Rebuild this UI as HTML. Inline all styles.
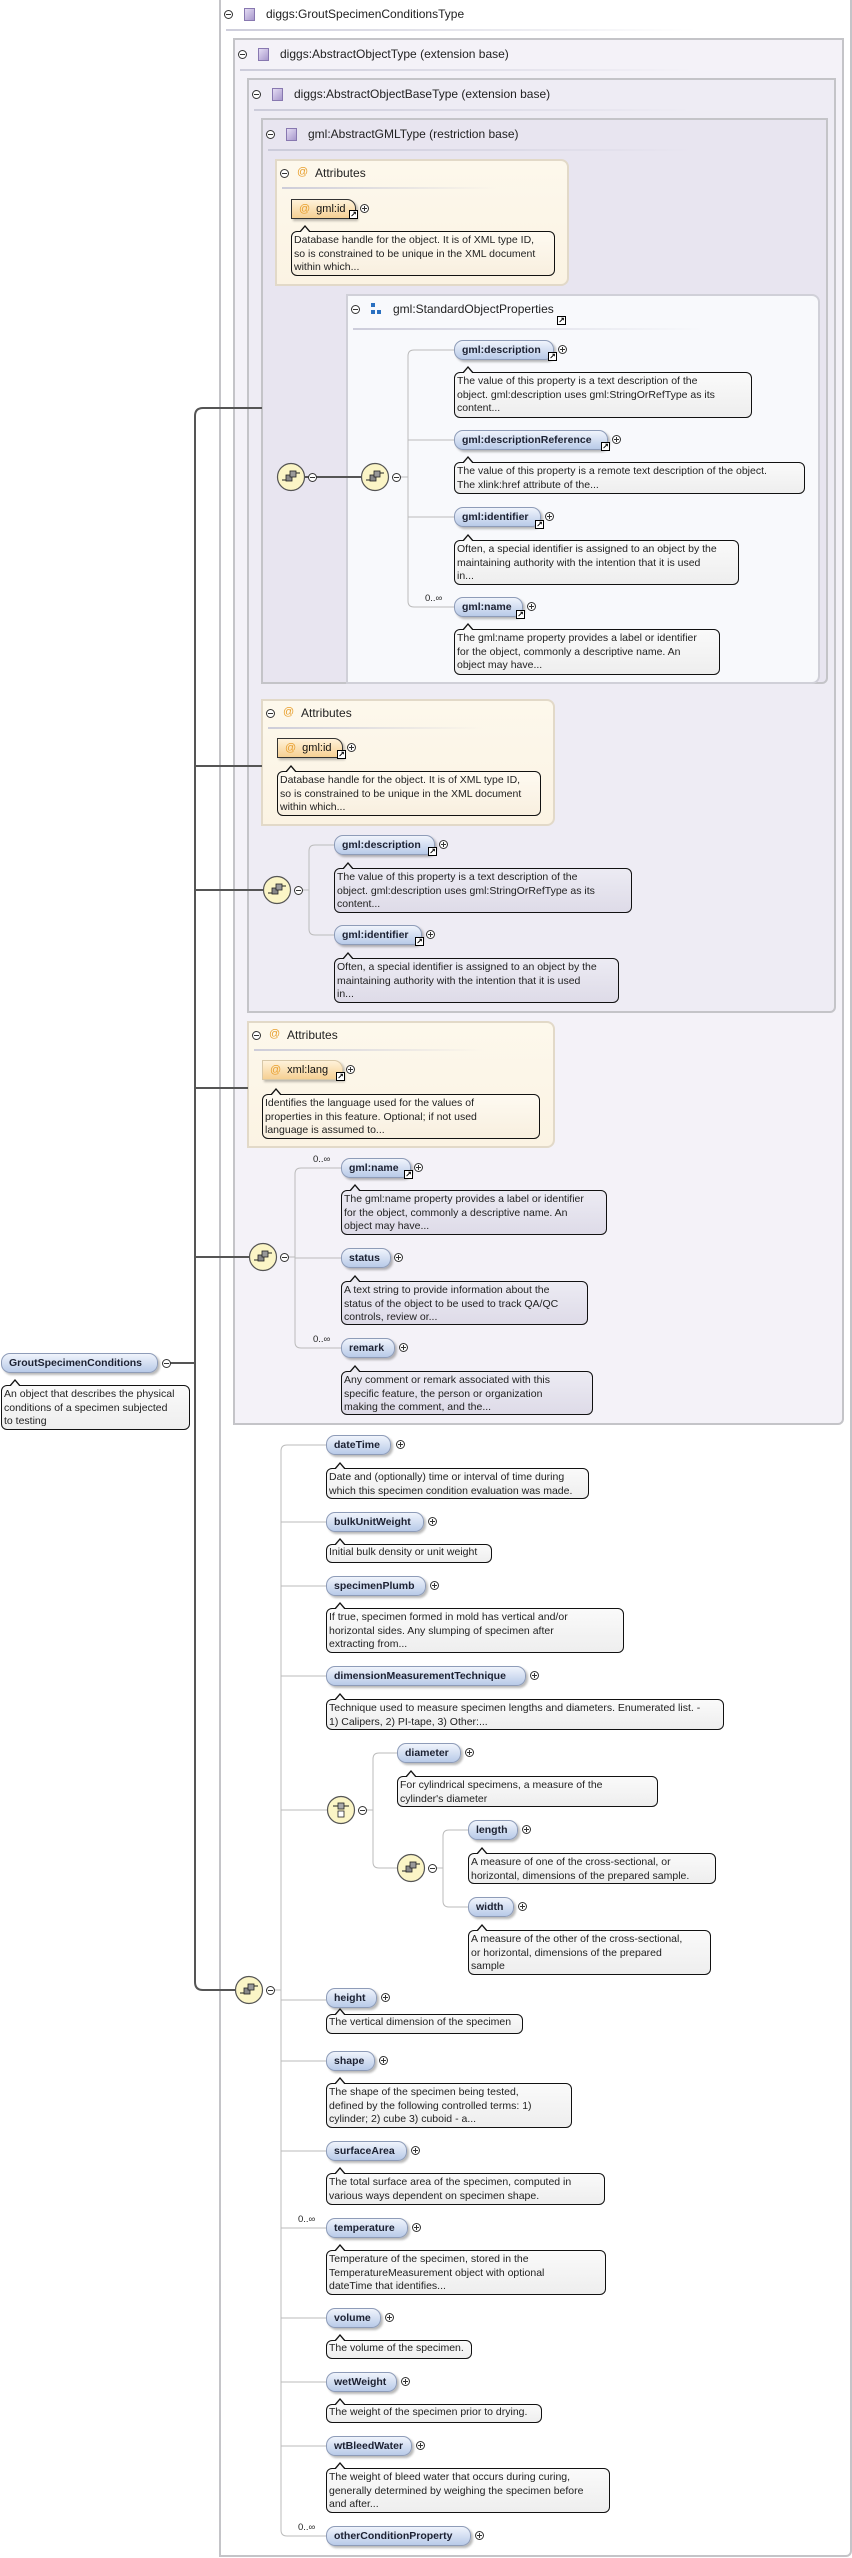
<!DOCTYPE html>
<html><head><meta charset="utf-8">
<style>
*{margin:0;padding:0}
body{width:852px;height:2558px;position:relative;background:#fff;overflow:hidden;font-family:"Liberation Sans",sans-serif}
.box{position:absolute;border:2px solid #c4c4c8;box-sizing:border-box;border-radius:0 0 6px 0}
.hd{position:absolute;font:12px "Liberation Sans",sans-serif;color:#222;white-space:nowrap}
.ul{position:absolute;height:2px;background:linear-gradient(90deg,rgba(200,200,215,.9),rgba(220,220,230,0))}
.mi{position:absolute;width:9px;height:9px;border:1px solid #333;border-radius:50%;box-sizing:border-box;background:#fff}
.mi::after{content:"";position:absolute;left:1px;top:3px;width:5px;height:1px;background:#333}
.pl{position:absolute;width:9px;height:9px;border:1px solid #333;border-radius:50%;box-sizing:border-box;background:#fff}
.pl::after{content:"";position:absolute;left:1px;top:3px;width:5px;height:1px;background:#333}
.pl::before{content:"";position:absolute;left:3px;top:1px;width:1px;height:5px;background:#333}
.ti{position:absolute;width:11px;height:13px;background:linear-gradient(135deg,#e4dcf4,#a898cc);border:1px solid #8878b0;box-sizing:border-box}
.at{position:absolute;color:#e8a030;font:11px "Liberation Sans",sans-serif}
.n{position:absolute;height:20px;box-sizing:border-box;border:1px solid #8e9cb8;border-radius:9px;background:linear-gradient(#f0f4fc,#b8cae8);font:bold 10.5px/18px "Liberation Sans",sans-serif;color:#1c2132;padding-left:7px;white-space:nowrap;box-shadow:2px 2px 2px rgba(0,0,0,.28)}
.a{position:absolute;height:20px;box-sizing:border-box;border:1px solid #333;border-radius:0 9px 0 0;background:linear-gradient(#fff2da,#f6d093);font:11px/18px "Liberation Sans",sans-serif;color:#111;padding-left:7px;white-space:nowrap;box-shadow:2px 2px 2px rgba(0,0,0,.25)}
.a i{font-style:normal;color:#e8a030;margin-right:6px}
.lk{position:absolute;width:9px;height:9px;border:1px solid #000;background:#fff;box-sizing:border-box;font:bold 8px/7px "DejaVu Sans",sans-serif;text-align:center;color:#000;overflow:hidden}
.b{position:absolute;border:1px solid #111;border-radius:6px;background:linear-gradient(#fafafa,#eeeeee);font:10.5px/13.5px "Liberation Sans",sans-serif;color:#222;padding:2px 2px;box-sizing:border-box;white-space:nowrap}
.b::before{content:"";position:absolute;left:7px;top:-7px;border-left:6px solid transparent;border-right:6px solid transparent;border-bottom:7px solid #111}
.b::after{content:"";position:absolute;left:8px;top:-5px;border-left:5px solid transparent;border-right:5px solid transparent;border-bottom:6px solid #f9f9f9}
.bp{background:linear-gradient(#ecebf3,#dedbe8)}
.bp::after{border-bottom-color:#ecebf3}
.ba{background:linear-gradient(#fefaf1,#f8efdf)}
.ba::after{border-bottom-color:#fefaf1}
.oc{position:absolute;font:9.5px "Liberation Sans",sans-serif;color:#222}
</style></head><body>

<div class="box" style="left:219px;top:0;width:633px;height:2557px;background:#fff;border-top:none"></div>
<div class="box" style="left:233px;top:38px;width:611px;height:1387px;background:#f4f2f8"></div>
<div class="box" style="left:247px;top:78px;width:589px;height:935px;background:#eeecf4"></div>
<div class="box" style="left:261px;top:118px;width:567px;height:566px;background:#e8e5f0"></div>
<div class="box" style="left:275px;top:159px;width:294px;height:127px;background:linear-gradient(#fdf8ec,#fbf3e3);border-color:#e2d9c8;border-radius:0 8px 8px 0"></div>
<div class="box" style="left:346px;top:294px;width:474px;height:390px;background:#f8f9fc;border-color:#d0d0d8;border-radius:0 8px 8px 0"></div>
<div class="box" style="left:261px;top:699px;width:294px;height:127px;background:linear-gradient(#fdf8ec,#fbf3e3);border-color:#e2d9c8;border-radius:0 8px 8px 0"></div>
<div class="box" style="left:247px;top:1021px;width:308px;height:127px;background:linear-gradient(#fdf8ec,#fbf3e3);border-color:#e2d9c8;border-radius:0 8px 8px 0"></div>

<div class="mi" style="left:224px;top:10px"></div><div class="ti" style="left:244px;top:8px"></div><div class="hd" style="left:266px;top:7px">diggs:GroutSpecimenConditionsType</div><div class="ul" style="left:226px;top:29px;width:470px"></div>
<div class="mi" style="left:238px;top:50px"></div><div class="ti" style="left:258px;top:48px"></div><div class="hd" style="left:280px;top:47px">diggs:AbstractObjectType (extension base)</div><div class="ul" style="left:240px;top:69px;width:455px"></div>
<div class="mi" style="left:252px;top:90px"></div><div class="ti" style="left:272px;top:88px"></div><div class="hd" style="left:294px;top:87px">diggs:AbstractObjectBaseType (extension base)</div><div class="ul" style="left:254px;top:109px;width:440px"></div>
<div class="mi" style="left:266px;top:130px"></div><div class="ti" style="left:286px;top:128px"></div><div class="hd" style="left:308px;top:127px">gml:AbstractGMLType (restriction base)</div><div class="ul" style="left:268px;top:149px;width:425px"></div>
<div class="mi" style="left:280px;top:169px"></div><div class="at" style="left:297px;top:166px">@</div><div class="hd" style="left:315px;top:166px">Attributes</div><div class="ul" style="left:282px;top:187px;width:215px"></div>
<div class="mi" style="left:351px;top:305px"></div>
<div style="position:absolute;left:371px;top:303px;width:4px;height:4px;background:#2a70c0"></div><div style="position:absolute;left:371px;top:310px;width:4px;height:4px;background:#2a70c0"></div><div style="position:absolute;left:377px;top:310px;width:4px;height:4px;background:#2a70c0"></div>
<div class="hd" style="left:393px;top:302px">gml:StandardObjectProperties</div><div class="lk" style="left:557px;top:316px">&#8599;</div><div class="ul" style="left:353px;top:328px;width:350px"></div>
<div class="mi" style="left:266px;top:709px"></div><div class="at" style="left:283px;top:706px">@</div><div class="hd" style="left:301px;top:706px">Attributes</div><div class="ul" style="left:268px;top:727px;width:215px"></div>
<div class="mi" style="left:252px;top:1031px"></div><div class="at" style="left:269px;top:1028px">@</div><div class="hd" style="left:287px;top:1028px">Attributes</div><div class="ul" style="left:254px;top:1049px;width:230px"></div>

<svg style="position:absolute;left:0;top:0" width="852" height="2558">
<g fill="none" stroke="#555" stroke-width="2">
<path d="M262 408 H203 Q195 408 195 416 V1982 Q195 1990 203 1990 H235"/>
<path d="M195 766 H262 M195 890 H263 M195 1088 H248 M195 1257 H249 M167 1363 H195"/>
<path d="M305 477 H361"/>
</g>
<g fill="none" stroke="#bbb" stroke-width="1">
<path d="M454 350 H414 Q408 350 408 356 V601 Q408 607 414 607 H454 M408 440 H454 M408 517 H454 M398 477 H408"/>
<path d="M334 845 H315 Q309 845 309 851 V929 Q309 935 315 935 H334 M300 890 H309"/>
<path d="M341 1168 H301 Q295 1168 295 1174 V1342 Q295 1348 301 1348 H341 M341 1258 H295 M286 1257 H295"/>
<path d="M326 1445 H287 Q281 1445 281 1451 V2530 Q281 2536 287 2536 H326 M272 1990 H281"/>
<path d="M281 1522 H326 M281 1586 H326 M281 1676 H326 M281 1810 H327 M281 2000 H326 M281 2061 H326 M281 2151 H326 M281 2228 H326 M281 2318 H326 M281 2382 H326 M281 2446 H326"/>
<path d="M397 1753 H379 Q373 1753 373 1759 V1862 Q373 1868 379 1868 H397 M364 1810 H373"/>
<path d="M468 1830 H449 Q443 1830 443 1836 V1901 Q443 1907 449 1907 H468 M434 1868 H443"/>
</g>
<defs>
<g id="seq"><circle r="13.5" fill="#fbf5c6" stroke="#555" stroke-width="1.2"/><path d="M-9 3 H-5 M5 -4 H9" stroke="#222" stroke-width="1"/><rect x="-5" y="-2" width="6" height="6" fill="#888" stroke="#222" stroke-width=".8"/><rect x="-1" y="-6" width="6" height="6" fill="#999" stroke="#222" stroke-width=".8"/></g>
<g id="cho"><circle r="13.5" fill="#fbf5c6" stroke="#555" stroke-width="1.2"/><path d="M-8 -4 H8" stroke="#222"/><rect x="-3" y="-7" width="6" height="6" fill="#aaa" stroke="#222" stroke-width=".8"/><rect x="-3" y="1" width="6" height="6" fill="#fff" stroke="#222" stroke-width=".8"/></g>
</defs>
<use href="#seq" x="291" y="477"/><use href="#seq" x="375" y="477"/>
<use href="#seq" x="277" y="890"/><use href="#seq" x="263" y="1257"/>
<use href="#seq" x="249" y="1990"/><use href="#cho" x="341" y="1810"/><use href="#seq" x="411" y="1868"/>
</svg>
<div class="mi" style="left:308px;top:473px"></div><div class="mi" style="left:392px;top:473px"></div>
<div class="mi" style="left:294px;top:886px"></div><div class="mi" style="left:280px;top:1253px"></div>
<div class="mi" style="left:266px;top:1986px"></div><div class="mi" style="left:358px;top:1806px"></div><div class="mi" style="left:428px;top:1864px"></div>
<div class="mi" style="left:162px;top:1359px"></div>

<div class="a" style="left:291px;top:199px;width:65px"><i>@</i>gml:id</div><div class="lk" style="left:349px;top:210px">&#8599;</div><div class="pl" style="left:360px;top:204px"></div>
<div class="b ba" style="left:291px;top:231px;width:264px;height:45px">Database handle for the object. It is of XML type ID,<br>so is constrained to be unique in the XML document<br>within which...</div>

<div class="n" style="left:454px;top:340px;width:100px">gml:description</div><div class="lk" style="left:548px;top:352px">&#8599;</div><div class="pl" style="left:558px;top:345px"></div>
<div class="b" style="left:454px;top:372px;width:298px;height:46px">The value of this property is a text description of the<br>object. gml:description uses gml:StringOrRefType as its<br>content...</div>
<div class="n" style="left:454px;top:430px;width:154px">gml:descriptionReference</div><div class="lk" style="left:601px;top:442px">&#8599;</div><div class="pl" style="left:612px;top:435px"></div>
<div class="b" style="left:454px;top:462px;width:351px;height:32px">The value of this property is a remote text description of the object.<br>The xlink:href attribute of the...</div>
<div class="n" style="left:454px;top:507px;width:87px">gml:identifier</div><div class="lk" style="left:535px;top:520px">&#8599;</div><div class="pl" style="left:545px;top:512px"></div>
<div class="b" style="left:454px;top:540px;width:285px;height:45px">Often, a special identifier is assigned to an object by the<br>maintaining authority with the intention that it is used<br>in...</div>
<div class="oc" style="left:425px;top:593px">0..∞</div>
<div class="n" style="left:454px;top:597px;width:69px">gml:name</div><div class="lk" style="left:516px;top:610px">&#8599;</div><div class="pl" style="left:527px;top:602px"></div>
<div class="b" style="left:454px;top:629px;width:266px;height:46px">The gml:name property provides a label or identifier<br>for the object, commonly a descriptive name. An<br>object may have...</div>

<div class="a" style="left:277px;top:738px;width:66px"><i>@</i>gml:id</div><div class="lk" style="left:337px;top:750px">&#8599;</div><div class="pl" style="left:347px;top:743px"></div>
<div class="b ba" style="left:277px;top:771px;width:264px;height:45px">Database handle for the object. It is of XML type ID,<br>so is constrained to be unique in the XML document<br>within which...</div>

<div class="n" style="left:334px;top:835px;width:101px">gml:description</div><div class="lk" style="left:428px;top:847px">&#8599;</div><div class="pl" style="left:439px;top:840px"></div>
<div class="b bp" style="left:334px;top:868px;width:298px;height:45px">The value of this property is a text description of the<br>object. gml:description uses gml:StringOrRefType as its<br>content...</div>
<div class="n" style="left:334px;top:925px;width:88px">gml:identifier</div><div class="lk" style="left:415px;top:937px">&#8599;</div><div class="pl" style="left:426px;top:930px"></div>
<div class="b bp" style="left:334px;top:958px;width:285px;height:45px">Often, a special identifier is assigned to an object by the<br>maintaining authority with the intention that it is used<br>in...</div>

<div class="a" style="left:262px;top:1060px;width:81px;border-color:#d8c8a8"><i>@</i>xml:lang</div><div class="lk" style="left:336px;top:1072px">&#8599;</div><div class="pl" style="left:346px;top:1065px"></div>
<div class="b ba" style="left:262px;top:1094px;width:278px;height:45px">Identifies the language used for the values of<br>properties in this feature. Optional; if not used<br>language is assumed to...</div>

<div class="oc" style="left:313px;top:1154px">0..∞</div>
<div class="n" style="left:341px;top:1158px;width:70px">gml:name</div><div class="lk" style="left:404px;top:1170px">&#8599;</div><div class="pl" style="left:414px;top:1163px"></div>
<div class="b bp" style="left:341px;top:1190px;width:266px;height:45px">The gml:name property provides a label or identifier<br>for the object, commonly a descriptive name. An<br>object may have...</div>
<div class="n" style="left:341px;top:1248px;width:50px">status</div><div class="pl" style="left:394px;top:1253px"></div>
<div class="b bp" style="left:341px;top:1281px;width:247px;height:44px">A text string to provide information about the<br>status of the object to be used to track QA/QC<br>controls, review or...</div>
<div class="oc" style="left:313px;top:1334px">0..∞</div>
<div class="n" style="left:341px;top:1338px;width:54px">remark</div><div class="pl" style="left:399px;top:1343px"></div>
<div class="b bp" style="left:341px;top:1371px;width:252px;height:44px">Any comment or remark associated with this<br>specific feature, the person or organization<br>making the comment, and the...</div>

<div class="n" style="left:1px;top:1353px;width:157px">GroutSpecimenConditions</div>
<div class="b" style="left:1px;top:1385px;width:189px;height:45px">An object that describes the physical<br>conditions of a specimen subjected<br>to testing</div>

<div class="n" style="left:326px;top:1435px;width:65px">dateTime</div><div class="pl" style="left:396px;top:1440px"></div>
<div class="b" style="left:326px;top:1468px;width:263px;height:31px">Date and (optionally) time or interval of time during<br>which this specimen condition evaluation was made.</div>
<div class="n" style="left:326px;top:1512px;width:98px">bulkUnitWeight</div><div class="pl" style="left:428px;top:1517px"></div>
<div class="b" style="left:326px;top:1544px;width:166px;height:19px;padding-top:1px">Initial bulk density or unit weight</div>
<div class="n" style="left:326px;top:1576px;width:100px">specimenPlumb</div><div class="pl" style="left:430px;top:1581px"></div>
<div class="b" style="left:326px;top:1608px;width:298px;height:45px">If true, specimen formed in mold has vertical and/or<br>horizontal sides. Any slumping of specimen after<br>extracting from...</div>
<div class="n" style="left:326px;top:1666px;width:200px">dimensionMeasurementTechnique</div><div class="pl" style="left:530px;top:1671px"></div>
<div class="b" style="left:326px;top:1699px;width:398px;height:31px">Technique used to measure specimen lengths and diameters. Enumerated list. -<br>1) Calipers, 2) PI-tape, 3) Other:...</div>
<div class="n" style="left:397px;top:1743px;width:64px">diameter</div><div class="pl" style="left:465px;top:1748px"></div>
<div class="b" style="left:397px;top:1776px;width:261px;height:31px">For cylindrical specimens, a measure of the<br>cylinder's diameter</div>
<div class="n" style="left:468px;top:1820px;width:50px">length</div><div class="pl" style="left:522px;top:1825px"></div>
<div class="b" style="left:468px;top:1853px;width:248px;height:31px">A measure of one of the cross-sectional, or<br>horizontal, dimensions of the prepared sample.</div>
<div class="n" style="left:468px;top:1897px;width:46px">width</div><div class="pl" style="left:518px;top:1902px"></div>
<div class="b" style="left:468px;top:1930px;width:243px;height:45px">A measure of the other of the cross-sectional,<br>or horizontal, dimensions of the prepared<br>sample</div>
<div class="n" style="left:326px;top:1988px;width:51px">height</div><div class="pl" style="left:381px;top:1993px"></div>
<div class="b" style="left:326px;top:2014px;width:197px;height:20px;padding-top:1px">The vertical dimension of the specimen</div>
<div class="n" style="left:326px;top:2051px;width:49px">shape</div><div class="pl" style="left:379px;top:2056px"></div>
<div class="b" style="left:326px;top:2083px;width:246px;height:45px">The shape of the specimen being tested,<br>defined by the following controlled terms: 1)<br>cylinder; 2) cube 3) cuboid - a...</div>
<div class="n" style="left:326px;top:2141px;width:81px">surfaceArea</div><div class="pl" style="left:411px;top:2146px"></div>
<div class="b" style="left:326px;top:2173px;width:279px;height:32px">The total surface area of the specimen, computed in<br>various ways dependent on specimen shape.</div>
<div class="oc" style="left:298px;top:2214px">0..∞</div>
<div class="n" style="left:326px;top:2218px;width:82px">temperature</div><div class="pl" style="left:412px;top:2223px"></div>
<div class="b" style="left:326px;top:2250px;width:280px;height:45px">Temperature of the specimen, stored in the<br>TemperatureMeasurement object with optional<br>dateTime that identifies...</div>
<div class="n" style="left:326px;top:2308px;width:55px">volume</div><div class="pl" style="left:385px;top:2313px"></div>
<div class="b" style="left:326px;top:2340px;width:146px;height:19px;padding-top:1px">The volume of the specimen.</div>
<div class="n" style="left:326px;top:2372px;width:71px">wetWeight</div><div class="pl" style="left:401px;top:2377px"></div>
<div class="b" style="left:326px;top:2404px;width:216px;height:19px;padding-top:1px">The weight of the specimen prior to drying.</div>
<div class="n" style="left:326px;top:2436px;width:86px">wtBleedWater</div><div class="pl" style="left:416px;top:2441px"></div>
<div class="b" style="left:326px;top:2468px;width:284px;height:45px">The weight of bleed water that occurs during curing,<br>generally determined by weighing the specimen before<br>and after...</div>
<div class="oc" style="left:298px;top:2522px">0..∞</div>
<div class="n" style="left:326px;top:2526px;width:145px">otherConditionProperty</div><div class="pl" style="left:475px;top:2531px"></div>
</body></html>
